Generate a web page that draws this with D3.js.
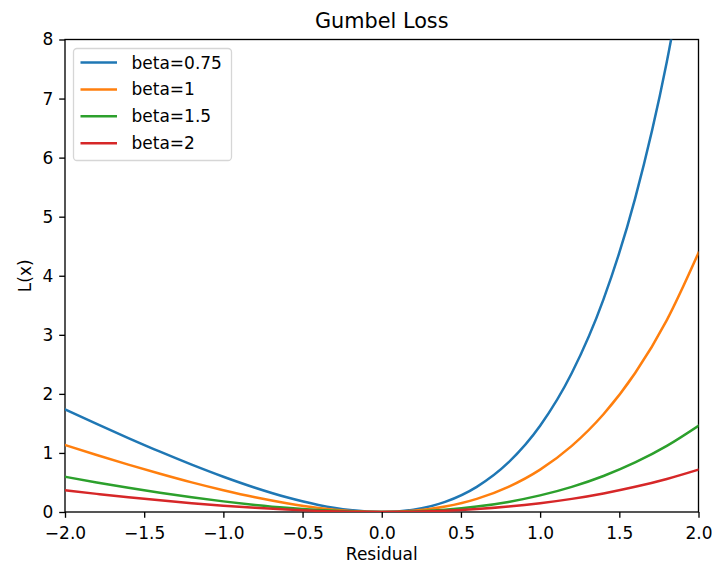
<!DOCTYPE html>
<html>
<head>
<meta charset="utf-8">
<script src="https://cdn.jsdelivr.net/npm/d3@7"></script>
<style>
    body { margin: 0; background: #fff; }
    svg text { font-family: "DejaVu Sans", sans-serif; fill: #000; }
</style>
</head>
<body>
<svg id="chart" width="712" height="564"></svg>
<script>
"use strict";

// residual sample positions
var residuals = [-2.0, -1.8, -1.6, -1.4, -1.2, -1.0, -0.8, -0.6, -0.4, -0.2, 0.0,
    0.2, 0.4, 0.6, 0.8, 1.0, 1.2, 1.4, 1.6, 1.8, 2.0];

// loss values, one list per beta
var loss075 = [1.736, 1.491, 1.252, 1.021, 0.802, 0.597, 0.411, 0.249, 0.120, 0.033, 0.0,
    0.039, 0.171, 0.426, 0.839, 1.460, 2.353, 3.600, 5.310, 7.623, 10.725];
var loss1 = [1.135, 0.965, 0.802, 0.647, 0.501, 0.368, 0.249, 0.149, 0.070, 0.019, 0.0,
    0.021, 0.092, 0.222, 0.426, 0.718, 1.120, 1.655, 2.353, 3.250, 4.389];
var loss15 = [0.597, 0.501, 0.411, 0.327, 0.249, 0.180, 0.120, 0.070, 0.033, 0.009, 0.0,
    0.009, 0.039, 0.092, 0.171, 0.281, 0.426, 0.610, 0.839, 1.120, 1.460];
var loss2 = [0.368, 0.307, 0.249, 0.197, 0.149, 0.107, 0.070, 0.041, 0.019, 0.005, 0.0,
    0.005, 0.021, 0.050, 0.092, 0.149, 0.222, 0.314, 0.426, 0.560, 0.718];

var seriesNames = ["beta=0.75", "beta=1", "beta=1.5", "beta=2"];
var seriesColors = ["#1f77b4", "#ff7f0e", "#2ca02c", "#d62728"];
var seriesValues = [loss075, loss1, loss15, loss2];

var xTicks = [-2.0, -1.5, -1.0, -0.5, 0.0, 0.5, 1.0, 1.5, 2.0];
var yTicks = [0, 1, 2, 3, 4, 5, 6, 7, 8];

var MARGIN = { left: 65, top: 39.5, right: 13.5, bottom: 52 };
var WIDTH = 712 - MARGIN.left - MARGIN.right;
var HEIGHT = 564 - MARGIN.top - MARGIN.bottom;
var FONT = 17;

var svg = d3.select("#chart");

var xScale = d3.scaleLinear().domain([-2, 2]).range([0, WIDTH]);
var yScale = d3.scaleLinear().domain([0, 8]).range([HEIGHT, 0]);

var mainChart = svg.append("g")
    .attr("transform", "translate(" + MARGIN.left + "," + MARGIN.top + ")");

svg.append("defs").append("clipPath")
    .attr("id", "plot-clip")
    .append("rect")
    .attr("x", MARGIN.left)
    .attr("y", MARGIN.top)
    .attr("width", WIDTH)
    .attr("height", HEIGHT);

var line = d3.line()
    .x(function(d) { return xScale(d[0]); })
    .y(function(d) { return yScale(d[1]); })
    .curve(d3.curveMonotoneX);

var linesGroup = svg.append("g")
    .attr("clip-path", "url(#plot-clip)")
    .append("g")
    .attr("transform", "translate(" + MARGIN.left + "," + MARGIN.top + ")");

seriesValues.forEach(function(values, i) {
    var points = residuals.map(function(r, j) { return [r, values[j]]; });
    linesGroup.append("path")
        .datum(points)
        .attr("d", line)
        .attr("fill", "none")
        .attr("stroke", seriesColors[i])
        .attr("stroke-width", 2.5)
        .attr("stroke-linejoin", "round")
        .attr("stroke-linecap", "square");
});

// axes
var xAxis = d3.axisBottom(xScale)
    .tickValues(xTicks)
    .tickFormat(d3.format(".1f"))
    .tickSizeOuter(0)
    .tickSize(5.8)
    .tickPadding(5.8);

var yAxis = d3.axisLeft(yScale)
    .tickValues(yTicks)
    .tickFormat(d3.format("d"))
    .tickSizeOuter(0)
    .tickSize(5.8)
    .tickPadding(5.8);

var gx = mainChart.append("g")
    .attr("transform", "translate(0," + HEIGHT + ")")
    .call(xAxis);
var gy = mainChart.append("g").call(yAxis);

[gx, gy].forEach(function(g) {
    g.select(".domain").remove();
    g.selectAll(".tick line").attr("stroke", "#000").attr("stroke-width", 1.33);
    g.selectAll(".tick text")
        .attr("font-size", FONT)
        .attr("font-family", "DejaVu Sans, sans-serif")
        .attr("fill", "#000");
});
gx.selectAll(".tick text").attr("dy", "0.93em");

// frame
mainChart.append("rect")
    .attr("width", WIDTH)
    .attr("height", HEIGHT)
    .attr("fill", "none")
    .attr("stroke", "#000")
    .attr("stroke-width", 1.33);

// labels
svg.append("text")
    .attr("x", MARGIN.left + WIDTH / 2)
    .attr("y", 28.3)
    .attr("text-anchor", "middle")
    .attr("font-size", 20.8)
    .text("Gumbel Loss");

svg.append("text")
    .attr("x", MARGIN.left + WIDTH / 2)
    .attr("y", 559.5)
    .attr("text-anchor", "middle")
    .attr("font-size", FONT)
    .text("Residual");

svg.append("text")
    .attr("transform", "translate(31," + (MARGIN.top + HEIGHT / 2) + ") rotate(-90)")
    .attr("text-anchor", "middle")
    .attr("font-size", FONT)
    .text("L(x)");

// legend
var legend = svg.append("g")
    .attr("transform", "translate(73.5,48.5)");

legend.append("rect")
    .attr("width", 158)
    .attr("height", 112)
    .attr("rx", 3.5)
    .attr("fill", "#fff")
    .attr("fill-opacity", 0.8)
    .attr("stroke", "#d6d6d6")
    .attr("stroke-width", 1.3);

var legendItems = legend.selectAll(".legend-item")
    .data(seriesNames)
    .enter().append("g")
    .attr("class", "legend-item")
    .attr("transform", function(d, i) {
        return "translate(0," + (14 + i * 26.9) + ")";
    });

legendItems.append("line")
    .attr("x1", 7)
    .attr("x2", 43.5)
    .attr("stroke", function(d, i) { return seriesColors[i]; })
    .attr("stroke-width", 2.5);

legendItems.append("text")
    .attr("x", 58)
    .attr("y", 6)
    .attr("font-size", FONT)
    .text(function(d) { return d; });
</script>
</body>
</html>
